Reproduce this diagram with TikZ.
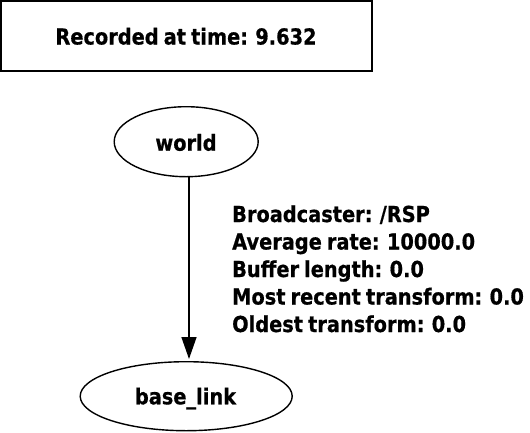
\documentclass[tikz,border=0pt]{standalone}
\usepackage{fontspec}
\setmainfont{DejaVu Sans}[FakeStretch=0.88,WordSpace=0.75,BoldFeatures={FakeBold=0.6}]
\usetikzlibrary{shapes.geometric,arrows.meta}
\begin{document}
\begin{tikzpicture}[x=1pt,y=-1pt,
  txt/.style={font=\bfseries\fontsize{22}{27}\selectfont, inner sep=0pt},
  frame/.style={draw, line width=1.5pt, minimum width=371pt, minimum height=70pt, inner sep=0pt},
  ell/.style={draw, ellipse, line width=1.4pt, inner sep=0pt},
  edge/.style={line width=1.4pt, -{Triangle[length=22pt,width=15pt]}}]
\useasboundingbox (0,0) rectangle (530,432);
\node[frame] (box) at (186.5,36) {};
\node[txt, anchor=base] (rec) at (186,44.5) {Recorded at time: 9.632};
\node[ell, minimum width=144pt, minimum height=70pt] (world) at (186.2,141.7) {};
\node[txt, anchor=base] (wt) at (186,150.7) {world};
\node[ell, minimum width=212pt, minimum height=69pt] (base) at (186.2,396.2) {};
\node[txt, anchor=base] (bt) at (185.5,404.3) {base\_link};
\draw[edge, shorten >=2pt] ([xshift=2.8pt]world.south) -- ([xshift=2.8pt]base.north);
\node[txt, anchor=base west] (l1) at (232,222) {Broadcaster: /RSP};
\node[txt, anchor=base west] (l2) at (232,249.5) {Average rate: 10000.0};
\node[txt, anchor=base west] (l3) at (232,277) {Buffer length: 0.0};
\node[txt, anchor=base west] (l4) at (232,304.5) {Most recent transform: 0.0};
\node[txt, anchor=base west] (l5) at (232,332) {Oldest transform: 0.0};
\end{tikzpicture}
\end{document}
